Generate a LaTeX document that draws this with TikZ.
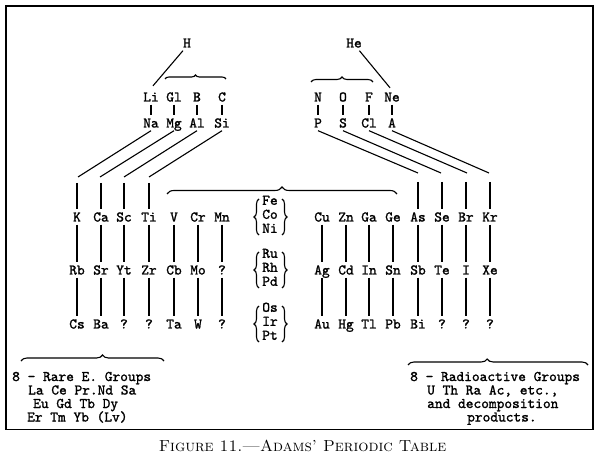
\documentclass[tikz,border=0pt]{standalone}
\usepackage{fontspec}
\usetikzlibrary{decorations.pathreplacing}
\newfontfamily\eltt{lmmono10-regular.otf}[FakeBold=1.4]
\newcommand\elfont{\eltt\fontsize{14.7}{14}\selectfont}
\begin{document}
\begin{tikzpicture}[x=1pt,y=1pt,
  el/.style={font=\elfont, inner xsep=0pt, inner ysep=3pt, text height=9pt, text depth=0pt, anchor=center},
  trio/.style={font=\elfont, inner sep=0pt, anchor=center},
  note/.style={font=\elfont, inner sep=0pt, text height=9pt, text depth=2pt, anchor=base west},
  cn/.style={line width=1.1pt},
  br/.style={line width=1.1pt, decorate, decoration={brace, amplitude=#1}},
  frame/.style={line width=1.4pt}]
\useasboundingbox (0,0) rectangle (602,458);
\draw[frame] (6,28.5) rectangle (593,452);

% top rows
\node[el] (H) at (187,415) {H};
\node[el] (He) at (354,415) {He};
\foreach \n/\x in {Li/151,Gl/174,B/197,C/222,N/318,O/343,F/369,Ne/392}
  \node[el] (\n) at (\x,361) {\n};
\foreach \n/\x in {Na/151,Mg/174,Al/197,Si/222,P/318,S/343,Cl/369,A/392}
  \node[el] (\n) at (\x,335) {\n};

% main rows
\foreach \n/\t/\x in {K/K/77,Ca/Ca/101,Sc/Sc/124,Ti/Ti/149,V/V/174,Cr/Cr/198,Mn/Mn/222,
  Cu/Cu/322,Zn/Zn/346,Ga/Ga/369,Ge/Ge/393,As/As/418,Se/Se/442,Br/Br/466,Kr/Kr/490}
  \node[el] (\n) at (\x,241) {\t};
\foreach \n/\t/\x in {Rb/Rb/77,Sr/Sr/101,Yt/Yt/124,Zr/Zr/149,Cb/Cb/174,Mo/Mo/198,qa/?/222,
  Ag/Ag/322,Cd/Cd/346,In/In/369,Sn/Sn/393,Sb/Sb/418,Te/Te/442,I/I/466,Xe/Xe/490}
  \node[el] (\n) at (\x,188) {\t};
\foreach \n/\t/\x in {Cs/Cs/77,Ba/Ba/101,qb/?/124,qc/?/149,Ta/Ta/174,W/W/198,qd/?/222,
  Au/Au/322,Hg/Hg/346,Tl/Tl/369,Pb/Pb/393,Bi/Bi/418,qe/?/442,qf/?/466,qg/?/490}
  \node[el] (\n) at (\x,134) {\t};

% triads
\node[trio] (fe) at (270,242) {\begin{tabular}{@{}c@{}}Fe\\Co\\Ni\end{tabular}};
\node[trio] (ru) at (270,189) {\begin{tabular}{@{}c@{}}Ru\\Rh\\Pd\end{tabular}};
\node[trio] (os) at (270,135) {\begin{tabular}{@{}c@{}}Os\\Ir\\Pt\end{tabular}};
\foreach \yc in {241,188,134}{
  \draw[br=5pt] (259,\yc-18) -- (259,\yc+18);
  \draw[br=5pt] (282,\yc+18) -- (282,\yc-18);
}

% vertical connectors
\foreach \a/\b in {Li/Na,Gl/Mg,B/Al,C/Si,N/P,O/S,F/Cl,Ne/A}
  \draw[cn] (\a) -- (\b);
\foreach \a/\b/\c in {K/Rb/Cs,Ca/Sr/Ba,Sc/Yt/qb,Ti/Zr/qc,V/Cb/Ta,Cr/Mo/W,Mn/qa/qd,
  Cu/Ag/Au,Zn/Cd/Hg,Ga/In/Tl,Ge/Sn/Pb,As/Sb/Bi,Se/Te/qe,Br/I/qf,Kr/Xe/qg}{
  \draw[cn] (\a) -- (\b);
  \draw[cn] (\b) -- (\c);
}

% H and He
\draw[cn] (H.south west) -- ([shift={(2,3.5)}]Li.north);
\draw[cn] ([xshift=-2.5pt]He.south east) -- ([shift={(-2,1.5)}]Ne.north);

% diagonals
\coordinate (dK) at (78,281);  \coordinate (vK) at (77,275);
\coordinate (dCa) at (100,281); \coordinate (vCa) at (101,275);
\coordinate (dSc) at (124,281); \coordinate (vSc) at (124,275);
\coordinate (dTi) at (149,281); \coordinate (vTi) at (149,275);
\coordinate (dAs) at (418,285); \coordinate (vAs) at (418,276);
\coordinate (dSe) at (441,285); \coordinate (vSe) at (442,276);
\coordinate (dBr) at (467,285); \coordinate (vBr) at (466,276);
\coordinate (dKr) at (489,285); \coordinate (vKr) at (490,276);
\foreach \s/\t in {Na/K,Mg/Ca,Al/Sc,Si/Ti,P/As,S/Se,Cl/Br,A/Kr}{
  \draw[cn] (\s.south) -- (d\t);
  \draw[cn] (v\t) -- (\t);
}

% horizontal braces
\draw[br=4pt] (165,379) -- (226,379);
\draw[br=5pt] (311,376) -- (373,376);
\draw[br=7pt] (167,264) -- (397,264);
\draw[line width=1.1pt, decorate, decoration={brace, amplitude=6pt, aspect=0.57}] (21,97) -- (164,97);
\draw[line width=1.1pt, decorate, decoration={brace, amplitude=6pt, aspect=0.44}] (408,93) -- (588,93);

% notes
\node[note] (r1) at (12,77) {8 - Rare E. Groups};
\node[note] (r2) at (28,63.5) {La Ce Pr.Nd Sa};
\node[note] (r3) at (33,50) {Eu Gd Tb Dy};
\node[note] (r4) at (27,36.5) {Er Tm Yb (Lv)};
\node[note] (a1) at (410,77) {8 - Radioactive Groups};
\node[note] (a2) at (427,63.5) {U Th Ra Ac, etc.,};
\node[note] (a3) at (427,50) {and decomposition};
\node[note] (a4) at (467,36.5) {products.};

% caption
\node[font=\fontsize{16}{16}\selectfont\scshape, inner sep=0pt, anchor=base] (cap) at (302.5,7) {Figure 11.---Adams' Periodic Table};
\end{tikzpicture}
\end{document}
